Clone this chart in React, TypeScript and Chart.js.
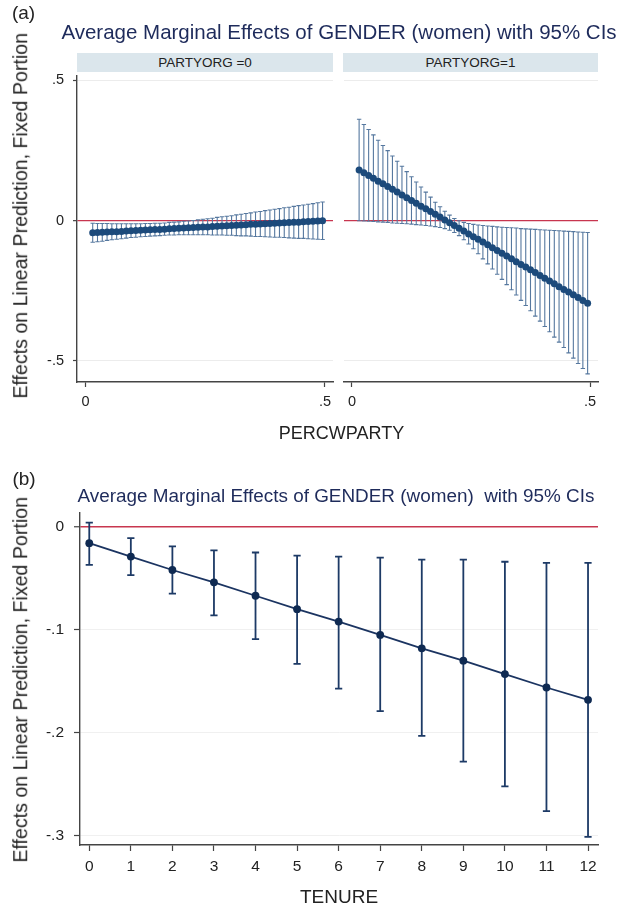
import React, { useEffect, useRef } from 'react';
import { Chart, registerables } from 'chart.js';
Chart.register(...registerables);

// ---------- Panel (a) data ----------
const PERCW = [
  0.015, 0.025, 0.035, 0.045, 0.055, 0.065, 0.075, 0.085, 0.095, 0.105,
  0.115, 0.125, 0.135, 0.145, 0.155, 0.165, 0.175, 0.185, 0.195, 0.205,
  0.215, 0.225, 0.235, 0.245, 0.255, 0.265, 0.275, 0.285, 0.295, 0.305,
  0.315, 0.325, 0.335, 0.345, 0.355, 0.365, 0.375, 0.385, 0.395, 0.405,
  0.415, 0.425, 0.435, 0.445, 0.455, 0.465, 0.475, 0.485, 0.495,
];
// PARTYORG = 0
const EST0 = [
  -0.043, -0.042, -0.041, -0.040, -0.039, -0.039, -0.038, -0.037, -0.036, -0.035,
  -0.034, -0.033, -0.032, -0.031, -0.031, -0.030, -0.029, -0.028, -0.027, -0.026,
  -0.025, -0.024, -0.023, -0.022, -0.022, -0.021, -0.020, -0.019, -0.018, -0.017,
  -0.016, -0.015, -0.014, -0.013, -0.013, -0.012, -0.011, -0.010, -0.009, -0.008,
  -0.007, -0.006, -0.005, -0.005, -0.004, -0.003, -0.002, -0.001, 0.000,
];
const LO0 = [
  -0.077, -0.075, -0.073, -0.070, -0.068, -0.066, -0.064, -0.062, -0.060, -0.059,
  -0.057, -0.056, -0.055, -0.054, -0.053, -0.052, -0.051, -0.051, -0.050, -0.050,
  -0.050, -0.050, -0.050, -0.050, -0.050, -0.051, -0.051, -0.051, -0.052, -0.052,
  -0.053, -0.054, -0.054, -0.055, -0.056, -0.056, -0.057, -0.058, -0.059, -0.059,
  -0.060, -0.061, -0.062, -0.063, -0.063, -0.064, -0.065, -0.066, -0.067,
];
const HI0 = [
  -0.009, -0.010, -0.010, -0.010, -0.011, -0.011, -0.011, -0.011, -0.011, -0.011,
  -0.011, -0.010, -0.010, -0.009, -0.009, -0.008, -0.006, -0.005, -0.004, -0.002,
  -0.001, 0.001, 0.003, 0.005, 0.007, 0.009, 0.012, 0.014, 0.016, 0.018,
  0.021, 0.023, 0.026, 0.028, 0.031, 0.033, 0.036, 0.038, 0.041, 0.043,
  0.046, 0.048, 0.051, 0.054, 0.056, 0.059, 0.061, 0.064, 0.067,
];
// PARTYORG = 1
const EST1 = [
  0.181, 0.171, 0.161, 0.151, 0.141, 0.132, 0.122, 0.112, 0.102, 0.092,
  0.082, 0.072, 0.062, 0.052, 0.043, 0.033, 0.023, 0.013, 0.003, -0.007,
  -0.017, -0.027, -0.037, -0.047, -0.057, -0.066, -0.076, -0.086, -0.096, -0.106,
  -0.116, -0.126, -0.136, -0.146, -0.156, -0.165, -0.175, -0.185, -0.195, -0.205,
  -0.215, -0.225, -0.235, -0.245, -0.254, -0.264, -0.274, -0.284, -0.294,
];
const LO1 = [
  0.000, -0.001, -0.002, -0.003, -0.004, -0.005, -0.006, -0.008, -0.009, -0.010,
  -0.011, -0.012, -0.014, -0.015, -0.017, -0.019, -0.021, -0.024, -0.028, -0.034,
  -0.042, -0.053, -0.068, -0.083, -0.100, -0.118, -0.136, -0.154, -0.172, -0.191,
  -0.209, -0.228, -0.246, -0.265, -0.284, -0.302, -0.321, -0.340, -0.358, -0.377,
  -0.396, -0.415, -0.433, -0.452, -0.471, -0.490, -0.509, -0.527, -0.546,
];
const HI1 = [
  0.362, 0.343, 0.325, 0.306, 0.287, 0.268, 0.250, 0.231, 0.212, 0.194,
  0.175, 0.157, 0.138, 0.120, 0.102, 0.084, 0.066, 0.050, 0.034, 0.020,
  0.008, 0.000, -0.006, -0.010, -0.013, -0.015, -0.017, -0.019, -0.020, -0.022,
  -0.023, -0.024, -0.025, -0.026, -0.028, -0.029, -0.030, -0.031, -0.032, -0.033,
  -0.034, -0.035, -0.036, -0.037, -0.038, -0.039, -0.040, -0.041, -0.042,
];
const A_X_TICKS = [0, 0.5];
const A_X_LABELS = ['0', '.5'];
const A_Y_TICKS = [-0.5, 0, 0.5];
const A_Y_LABELS = ['-.5', '0', '.5'];

// ---------- Panel (b) data ----------
const TENURE = [0, 1, 2, 3, 4, 5, 6, 7, 8, 9, 10, 11, 12];
const EST_T = [-0.016, -0.029, -0.042, -0.054, -0.067, -0.080, -0.092, -0.105, -0.118, -0.130, -0.143, -0.156, -0.168];
const LO_T = [-0.037, -0.047, -0.065, -0.086, -0.109, -0.133, -0.157, -0.179, -0.203, -0.228, -0.252, -0.276, -0.301];
const HI_T = [0.004, -0.011, -0.019, -0.023, -0.025, -0.028, -0.029, -0.030, -0.032, -0.032, -0.034, -0.035, -0.035];
const B_Y_TICKS = [-0.3, -0.2, -0.1, 0];
const B_Y_LABELS = ['-.3', '-.2', '-.1', '0'];

const FONT = '"Liberation Sans", Arial, Helvetica, sans-serif';
const RED = '#c8364f';
const AXIS = '#444444';
const NAVY_TITLE = '#1e2b5b';

function makeErrorBars(xs: number[], lo: number[], hi: number[], color: string, width: number, cap: number) {
  return {
    id: 'errorBars',
    beforeDatasetsDraw(chart: any) {
      const ctx = chart.ctx;
      const xS = chart.scales.x;
      const yS = chart.scales.y;
      ctx.save();
      ctx.strokeStyle = color;
      ctx.lineWidth = width;
      ctx.beginPath();
      xs.forEach((xv, i) => {
        const px = xS.getPixelForValue(xv);
        const y1 = yS.getPixelForValue(lo[i]);
        const y2 = yS.getPixelForValue(hi[i]);
        ctx.moveTo(px, y1);
        ctx.lineTo(px, y2);
        ctx.moveTo(px - cap, y1);
        ctx.lineTo(px + cap, y1);
        ctx.moveTo(px - cap, y2);
        ctx.lineTo(px + cap, y2);
      });
      ctx.stroke();
      ctx.restore();
    },
  };
}

function fixedTicks(values: number[]) {
  return (scale: any) => {
    scale.ticks = values.map((v) => ({ value: v }));
  };
}

function labelFor(values: number[], labels: string[]) {
  return (v: any) => {
    const i = values.findIndex((t) => Math.abs(t - Number(v)) < 1e-9);
    return i >= 0 ? labels[i] : '';
  };
}

function panelAConfig(est: number[], lo: number[], hi: number[], showY: boolean, padLeft: number, padRight: number) {
  return {
    type: 'line',
    data: {
      datasets: [
        {
          data: PERCW.map((x, i) => ({ x, y: est[i] })),
          borderColor: '#1c4a7b',
          backgroundColor: '#1c4a7b',
          borderWidth: 2.2,
          pointRadius: 3.5,
          pointBorderWidth: 0,
          pointHoverRadius: 0,
        },
      ],
    },
    options: {
      animation: false,
      responsive: false,
      maintainAspectRatio: false,
      events: [],
      layout: { padding: { top: 76, right: padRight, left: padLeft, bottom: 0 } },
      plugins: { legend: { display: false }, tooltip: { enabled: false } },
      scales: {
        x: {
          type: 'linear',
          min: -0.0178,
          max: 0.5168,
          afterBuildTicks: fixedTicks(A_X_TICKS),
          afterFit: (s: any) => {
            s.height = 38;
          },
          ticks: {
            callback: labelFor(A_X_TICKS, A_X_LABELS),
            font: { family: FONT, size: 14.5 },
            color: '#222',
            padding: 6,
            maxRotation: 0,
            autoSkip: false,
          },
          grid: { drawOnChartArea: false, drawTicks: true, tickLength: 5, tickColor: AXIS, tickWidth: 1.2 },
          border: { display: true, color: AXIS, width: 1.4 },
        },
        y: {
          type: 'linear',
          min: -0.575,
          max: 0.516,
          afterBuildTicks: fixedTicks(A_Y_TICKS),
          afterFit: (s: any) => {
            s.width = showY ? 77 : 0;
          },
          ticks: {
            display: showY,
            callback: labelFor(A_Y_TICKS, A_Y_LABELS),
            font: { family: FONT, size: 14.5 },
            color: '#222',
            padding: 9,
          },
          grid: {
            drawTicks: showY,
            tickLength: 4,
            tickColor: AXIS,
            tickWidth: 1.2,
            color: (c: any) => (c.tick && c.tick.value === 0 ? RED : '#ececec'),
            lineWidth: (c: any) => (c.tick && c.tick.value === 0 ? 1.3 : 1),
          },
          border: { display: showY, color: AXIS, width: 1.4 },
        },
      },
    },
    plugins: [makeErrorBars(PERCW, lo, hi, '#56789f', 1.1, 2.2)],
  };
}

function panelBConfig() {
  return {
    type: 'line',
    data: {
      datasets: [
        {
          data: TENURE.map((x, i) => ({ x, y: EST_T[i] })),
          borderColor: '#1b3461',
          backgroundColor: '#0f2a52',
          borderWidth: 1.8,
          pointRadius: 3.9,
          pointBorderWidth: 0,
          pointHoverRadius: 0,
        },
      ],
    },
    options: {
      animation: false,
      responsive: false,
      maintainAspectRatio: false,
      events: [],
      layout: { padding: { top: 53, right: 25, left: 0, bottom: 0 } },
      plugins: { legend: { display: false }, tooltip: { enabled: false } },
      scales: {
        x: {
          type: 'linear',
          min: -0.223,
          max: 12.24,
          afterBuildTicks: fixedTicks(TENURE),
          afterFit: (s: any) => {
            s.height = 64;
          },
          ticks: {
            callback: (v: any) => String(v),
            font: { family: FONT, size: 15.5 },
            color: '#222',
            padding: 6,
            maxRotation: 0,
            autoSkip: false,
          },
          grid: { drawOnChartArea: false, drawTicks: true, tickLength: 6, tickColor: AXIS, tickWidth: 1.2 },
          border: { display: true, color: AXIS, width: 1.4 },
        },
        y: {
          type: 'linear',
          min: -0.3088,
          max: 0.0133,
          afterBuildTicks: fixedTicks(B_Y_TICKS),
          afterFit: (s: any) => {
            s.width = 80;
          },
          ticks: {
            callback: labelFor(B_Y_TICKS, B_Y_LABELS),
            font: { family: FONT, size: 15.5 },
            color: '#222',
            padding: 10,
          },
          grid: {
            drawTicks: true,
            tickLength: 6,
            tickColor: AXIS,
            tickWidth: 1.2,
            color: (c: any) => (c.tick && c.tick.value === 0 ? RED : '#f0f0f0'),
            lineWidth: (c: any) => (c.tick && c.tick.value === 0 ? 1.5 : 1),
          },
          border: { display: true, color: AXIS, width: 1.4 },
        },
      },
    },
    plugins: [makeErrorBars(TENURE, LO_T, HI_T, '#1d3a66', 1.8, 3.6)],
  };
}

function ChartCanvas({ left, top, width, height, build }: any) {
  const ref = useRef<HTMLCanvasElement | null>(null);
  useEffect(() => {
    const chart = new Chart(ref.current as HTMLCanvasElement, build() as any);
    return () => chart.destroy();
  }, []);
  return (
    <canvas
      ref={ref}
      width={width}
      height={height}
      style={{ position: 'absolute', left, top, width, height, display: 'block' }}
    />
  );
}

function Label({ cx, cy, size, color, text, rotate, w }: any) {
  const W = w || 640;
  return (
    <div
      style={{
        position: 'absolute',
        left: cx - W / 2,
        top: cy - size / 2,
        width: W,
        height: size,
        lineHeight: `${size}px`,
        fontSize: size,
        color,
        textAlign: 'center',
        whiteSpace: 'pre',
        fontFamily: FONT,
        transform: rotate ? `rotate(${rotate}deg)` : undefined,
      }}
    >
      {text}
    </div>
  );
}

export default function App() {
  return (
    <div
      style={{
        position: 'absolute',
        left: 0,
        top: 0,
        width: 623,
        height: 909,
        background: '#ffffff',
        overflow: 'hidden',
        fontFamily: FONT,
      }}
    >
      {/* strips */}
      <div style={{ position: 'absolute', left: 77, top: 53, width: 256, height: 19, background: '#dbe6ec' }} />
      <div style={{ position: 'absolute', left: 343, top: 53, width: 255, height: 19, background: '#dbe6ec' }} />
      <Label cx={205} cy={62.5} size={13.5} color="#222" text="PARTYORG =0" />
      <Label cx={470.5} cy={62.5} size={13.5} color="#222" text="PARTYORG=1" />

      <ChartCanvas left={0} top={0} width={340} height={420} build={() => panelAConfig(EST0, LO0, HI0, true, 0, 7)} />
      <ChartCanvas left={340} top={0} width={283} height={420} build={() => panelAConfig(EST1, LO1, HI1, false, 3, 25)} />
      <ChartCanvas left={0} top={460} width={623} height={449} build={() => panelBConfig()} />

      <Label cx={23.5} cy={12} size={19} color="#222" text="(a)" w={60} />
      <Label cx={339} cy={32} size={20.5} color={NAVY_TITLE} text="Average Marginal Effects of GENDER (women) with 95% CIs" />
      <Label cx={20.8} cy={216} size={19.6} color="#222" text="Effects on Linear Prediction, Fixed Portion" rotate={-90} w={420} />
      <Label cx={341.5} cy={433} size={18} color="#222" text="PERCWPARTY" />

      <Label cx={24} cy={478} size={19} color="#222" text="(b)" w={60} />
      <Label cx={336} cy={496} size={18.9} color={NAVY_TITLE} text="Average Marginal Effects of GENDER (women)  with 95% CIs" />
      <Label cx={20.8} cy={680} size={19.6} color="#222" text="Effects on Linear Prediction, Fixed Portion" rotate={-90} w={420} />
      <Label cx={339} cy={896} size={19} color="#222" text="TENURE" />
    </div>
  );
}
